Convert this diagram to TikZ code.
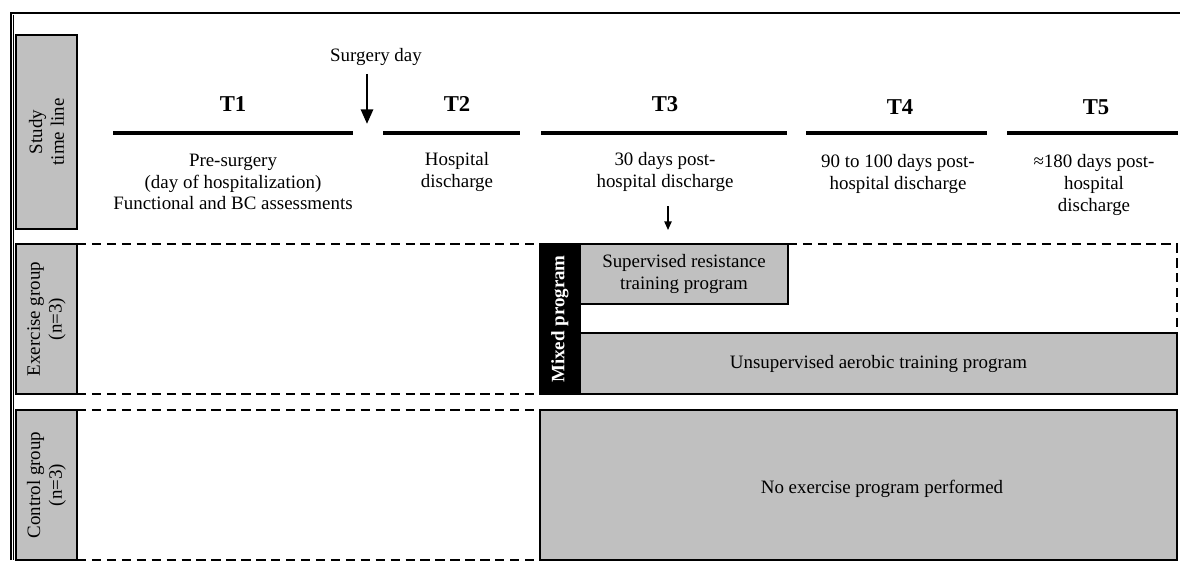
\documentclass[tikz,border=0pt]{standalone}
\usepackage{fontspec}
\setmainfont{Liberation Serif}
\usetikzlibrary{arrows.meta,fit}
\definecolor{boxgray}{RGB}{192,192,192}
\begin{document}
\begin{tikzpicture}[x=0.75pt,y=-0.75pt,
  txt/.style={font=\fontsize{14.2}{16.4}\selectfont, align=center, inner sep=0pt},
  tlab/.style={font=\fontsize{17}{20}\selectfont\bfseries, inner sep=0pt},
  graybox/.style={draw=black, line width=1.4pt, fill=boxgray, inner sep=0pt},
  blackbox/.style={draw=black, line width=1.4pt, fill=black, inner sep=0pt},
  tbar/.style={line width=3pt},
  dashline/.style={line width=1.3pt, dash pattern=on 7pt off 4.2pt},
  frameline/.style={line width=0.9pt},
  bigarrow/.style={line width=2.2pt, -{Triangle[width=9pt,length=11pt]}},
  smallarrow/.style={line width=1.1pt, -{Triangle[width=5.5pt,length=6.5pt]}}
]
\clip (0,0) rectangle (1180,560);
% outer frame
\coordinate (fA) at (11,560);
\coordinate (fB) at (11,13);
\coordinate (fC) at (1180,13);
\coordinate (fD) at (13.5,15);
\coordinate (fE) at (13.5,560);
\draw[frameline] (fA) -- (fB) -- (fC);
\draw[frameline] (fD) -- (fE);

% side boxes
\node[graybox, fit={(16,35)(77,229)}] (studybox) {};
\node[txt, rotate=90] (studylab) at (studybox.center) {Study\\time line};
\node[graybox, fit={(16,244)(77,394)}] (exbox) {};
\node[txt, rotate=90] (exlab) at (exbox.center) {Exercise group\\(n=3)};
\node[graybox, fit={(16,410)(77,560)}] (ctbox) {};
\node[txt, rotate=90] (ctlab) at (46.5,485) {Control group\\(n=3)};

% timeline bars
\coordinate (b1a) at (113,133); \coordinate (b1b) at (353,133);
\coordinate (b2a) at (383,133); \coordinate (b2b) at (520,133);
\coordinate (b3a) at (541,133); \coordinate (b3b) at (787,133);
\coordinate (b4a) at (806,133); \coordinate (b4b) at (987,133);
\coordinate (b5a) at (1007,133); \coordinate (b5b) at (1178,133);
\draw[tbar] (b1a) -- (b1b);
\draw[tbar] (b2a) -- (b2b);
\draw[tbar] (b3a) -- (b3b);
\draw[tbar] (b4a) -- (b4b);
\draw[tbar] (b5a) -- (b5b);

% T labels
\node[tlab] (t1) at (233,104) {T1};
\node[tlab] (t2) at (457,104) {T2};
\node[tlab] (t3) at (665,104) {T3};
\node[tlab] (t4) at (900,107) {T4};
\node[tlab] (t5) at (1096,107) {T5};

% descriptions
\node[txt] (d1) at (233,182) {Pre-surgery\\(day of hospitalization)\\Functional and BC assessments};
\node[txt] (d2) at (457,172) {Hospital\\discharge};
\node[txt] (d3) at (665,172) {30 days post-\\hospital discharge};
\node[txt] (d4) at (898,174) {90 to 100 days post-\\hospital discharge};
\node[txt] (d5) at (1094,185) {≈180 days post-\\hospital\\discharge};

% surgery day
\node[txt] (surg) at (376,57) {Surgery day};
\coordinate (sa) at (367,74);
\coordinate (sb) at (367,124);
\draw[bigarrow] (sa) -- (sb);

% T3 small arrow
\coordinate (ma) at (668,206);
\coordinate (mb) at (668,230);
\draw[smallarrow] (ma) -- (mb);

% exercise group
\draw[dashline] (77,244) -- (540,244);
\draw[dashline] (77,394) -- (540,394);
\draw[dashline] (788,244) -- (1177,244) -- (1177,333);
\node[blackbox, fit={(540,244)(580,394)}] (mixed) {};
\node[txt, rotate=90, text=white, font=\fontsize{14.2}{16.4}\selectfont\bfseries] (mixedlab) at (mixed.center) {Mixed program};
\node[graybox, fit={(580,244)(788,304)}] (sup) {};
\node[txt] (suplab) at (sup.center) {Supervised resistance\\training program};
\node[graybox, fit={(580,333)(1177,394)}] (unsup) {};
\node[txt] (unsuplab) at (unsup.center) {Unsupervised aerobic training program};

% control group
\draw[dashline] (77,410) -- (540,410);
\draw[dashline] (77,560) -- (540,560);
\node[graybox, fit={(540,410)(1177,560)}] (noex) {};
\node[txt] (noexlab) at (882,489) {No exercise program performed};
\end{tikzpicture}
\end{document}
